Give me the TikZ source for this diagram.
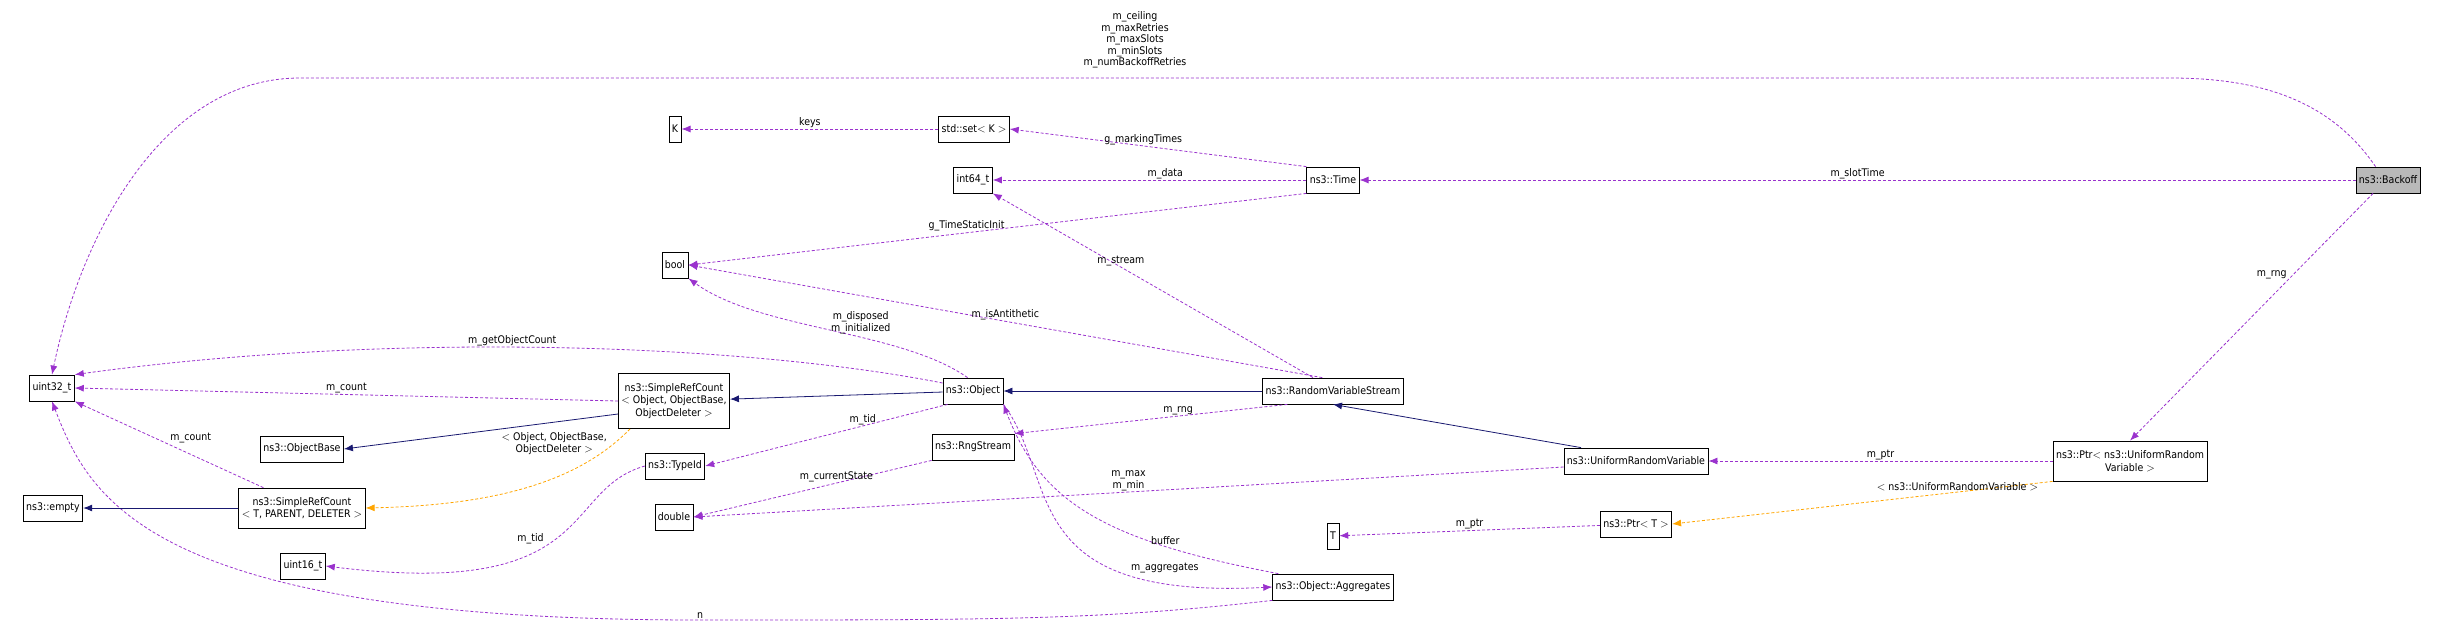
\documentclass[tikz,border=0pt]{standalone}
\usepackage{fontspec}
\setmainfont{DejaVu Sans Condensed}
\usetikzlibrary{arrows.meta}
\definecolor{memb}{HTML}{9A32CD}
\definecolor{inh}{HTML}{191970}
\definecolor{tmpl}{HTML}{FFA500}
\tikzset{
  cls/.style={draw, thick, fill=white, inner sep=3pt, minimum height=26pt, font=\fontsize{10.5}{12.5}\selectfont, align=center},
  use/.style={memb, densely dashed, thick, -{Latex[length=9pt,width=7pt]}},
  base/.style={inh, thick, -{Latex[length=9pt,width=7pt]}},
  inst/.style={tmpl, densely dashed, thick, -{Latex[length=9pt,width=7pt]}},
  lbl/.style={text=black, font=\fontsize{10.5}{11.5}\selectfont, align=center, inner sep=1pt}
}
\begin{document}
\begin{tikzpicture}[x=1pt, y=-1pt]
  \useasboundingbox (0,0) rectangle (2443,625);

  % classes
  \node[cls, fill=gray!55] (backoff) at (2388,180) {ns3::Backoff};
  \node[cls] (time) at (1333,180) {ns3::Time};
  \node[cls] (set) at (974,129) {std::set$<$ K $>$};
  \node[cls] (K) at (675,129) {K};
  \node[cls] (i64) at (973,180) {int64\_t};
  \node[cls] (bool) at (675,265) {bool};
  \node[cls] (u32) at (52,388) {uint32\_t};
  \node[cls, minimum height=55pt] (srcobj) at (674,401) {ns3::SimpleRefCount\\$<$ Object, ObjectBase,\\ObjectDeleter $>$};
  \node[cls] (object) at (973,391) {ns3::Object};
  \node[cls] (objbase) at (302,449) {ns3::ObjectBase};
  \node[cls] (typeid) at (675,466) {ns3::TypeId};
  \node[cls] (rng) at (973,447) {ns3::RngStream};
  \node[cls] (empty) at (53,508) {ns3::empty};
  \node[cls, minimum height=40pt] (src) at (302,508) {ns3::SimpleRefCount\\$<$ T, PARENT, DELETER $>$};
  \node[cls] (double) at (674,517) {double};
  \node[cls] (u16) at (303,566) {uint16\_t};
  \node[cls] (rvs) at (1333,391) {ns3::RandomVariableStream};
  \node[cls] (urv) at (1636,461) {ns3::UniformRandomVariable};
  \node[cls, minimum height=40pt] (ptrurv) at (2130,461) {ns3::Ptr$<$ ns3::UniformRandom\\Variable $>$};
  \node[cls] (ptrT) at (1636,524) {ns3::Ptr$<$ T $>$};
  \node[cls] (T) at (1333,536) {T};
  \node[cls] (aggr) at (1333,587) {ns3::Object::Aggregates};

  % members of ns3::Backoff
  \draw[use] (backoff.north west) ++(20,0) .. controls (2330,100) and (2260,78) .. (2170,78)
    -- (300,78) .. controls (160,78) and (80,240) .. (u32.north);
  \node[lbl] (lceil) at (1135,40) {m\_ceiling\\m\_maxRetries\\m\_maxSlots\\m\_minSlots\\m\_numBackoffRetries};
  \draw[use] (backoff) -- node[lbl, above] {m\_slotTime} (time);
  \draw[use] (backoff.south) ++(-15,0) -- node[lbl, above left, pos=0.35] {m\_rng} (ptrurv.north);

  % ns3::Time
  \draw[use] (time.north west) -- node[lbl, above, pos=0.55] {g\_markingTimes} (set.east);
  \draw[use] (time) -- node[lbl, above, pos=0.45] {m\_data} (i64);
  \draw[use] (time.south west) -- node[lbl, above, pos=0.55] {g\_TimeStaticInit} (bool.east);
  \draw[use] (set) -- node[lbl, above] {keys} (K);

  % ns3::RandomVariableStream
  \draw[use] (rvs.north) ++(-20,0) -- node[lbl, above, pos=0.6] {m\_stream} (i64.south east);
  \draw[use] (rvs.north west) ++(60,0) -- node[lbl, above, pos=0.5] {m\_isAntithetic} (bool.east);
  \draw[use] (rvs.south west) ++(25,0) -- node[lbl, above, pos=0.4] {m\_rng} (rng.north east);
  \draw[base] (rvs) -- (object);
  \draw[base] (urv.north) ++(-55,0) -- (rvs.south);
  \draw[use] (urv.west) ++(0,6) -- node[lbl, above, pos=0.5] {m\_max\\m\_min} (double.east);

  % ns3::Ptr
  \draw[use] (ptrurv.west) -- node[lbl, above] {m\_ptr} (urv);
  \draw[inst] (ptrurv.south west) -- node[lbl, above, pos=0.25] {$<$ ns3::UniformRandomVariable $>$} (ptrT.east);
  \draw[use] (ptrT) -- node[lbl, above] {m\_ptr} (T);

  % ns3::Object
  \draw[use] (object.north west) ++(25,0) .. controls (900,330) and (760,330) .. node[lbl, pos=0.4, above=2pt] {m\_disposed\\m\_initialized} (bool.south east);
  \draw[use] (object.west) ++(0,-8) .. controls (750,345) and (400,330) .. node[lbl, above, pos=0.55] {m\_getObjectCount} (u32.north east);
  \draw[base] (object) -- (srcobj);
  \draw[use] (object.south west) ++(5,0) -- node[lbl, above, pos=0.35] {m\_tid} (typeid.east);
  \draw[use] (object.south east) .. controls (1060,480) and (1015,600) .. node[lbl, pos=0.75, above right] {m\_aggregates} (aggr.west);
  \draw[use] (aggr.north west) ++(6,0) .. controls (1100,540) and (1040,500) .. node[lbl, pos=0.25, above] {buffer} (object.south east);
  \draw[use] (aggr.south west) .. controls (1100,620) and (1000,620) .. (700,620)
    node[lbl, above] {n} .. controls (150,620) and (90,500) .. (u32.south);

  % ns3::SimpleRefCount
  \draw[use] (srcobj.west) -- node[lbl, above] {m\_count} (u32.east);
  \draw[base] (srcobj.west) ++(0,13) -- (objbase.east);
  \draw[inst] (srcobj.south west) ++(12,0) .. controls (580,480) and (500,505) .. node[lbl, pos=0.1, left=6pt] {$<$ Object, ObjectBase,\\ObjectDeleter $>$} (src.east);
  \draw[use] (src.north west) ++(25,0) -- node[lbl, above right, pos=0.5] {m\_count} (u32.south east);
  \draw[base] (src) -- (empty);

  % ns3::TypeId, ns3::RngStream
  \draw[use] (typeid.west) .. controls (560,490) and (600,600) .. node[lbl, pos=0.55, above left] {m\_tid} (u16.east);
  \draw[use] (rng.south west) -- node[lbl, above, pos=0.4] {m\_currentState} (double.east);
\end{tikzpicture}
\end{document}
